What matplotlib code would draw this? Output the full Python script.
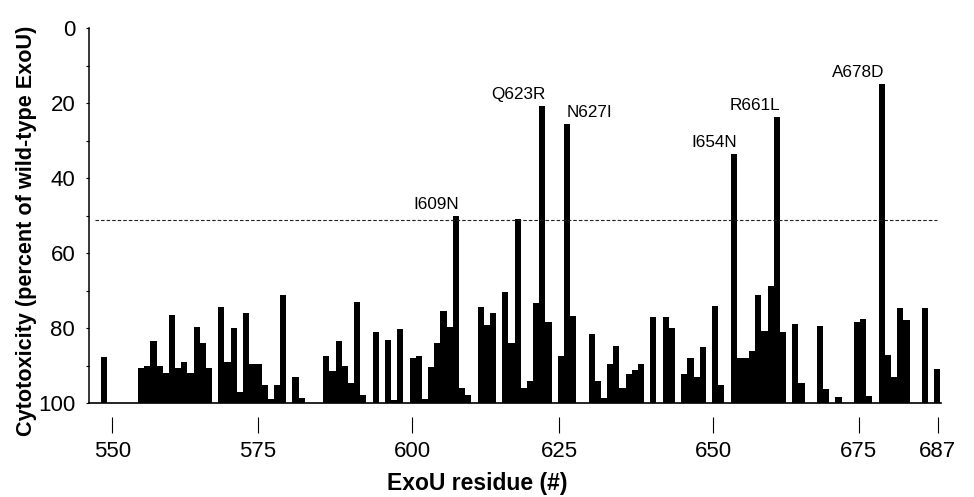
import numpy as np
import matplotlib
matplotlib.use("Agg")
import matplotlib.pyplot as plt

plt.rcParams['font.family'] = ['Liberation Sans', 'DejaVu Sans']

# Cytotoxicity (% of wild-type ExoU) per residue, 100 = no reduction (no bar)
first_residue = 552
cytotoxicity = [
    87.6, 100, 100, 100, 100, 100, 90.6, 90.1, 83.3, 90.1,   # 552-561
    92.0, 76.4, 90.7, 89.0, 91.8, 79.7, 83.9, 90.6, 100, 74.2,  # 562-571
    89.1, 79.8, 96.9, 75.8, 89.4, 89.4, 95.2, 98.9, 95.0, 71.0,  # 572-581
    100, 93.0, 98.7, 100, 100, 100, 87.3, 91.3, 83.3, 90.0,     # 582-591
    94.7, 73.1, 97.9, 100, 80.9, 100, 83.2, 99.2, 80.3, 100,    # 592-601
    88.0, 87.3, 98.9, 90.2, 83.8, 75.3, 79.6, 50.1, 95.8, 97.9,  # 602-611
    100, 74.3, 79.1, 75.8, 100, 70.4, 83.8, 50.8, 96.0, 94.0,   # 612-621
    73.3, 20.7, 78.2, 100, 87.3, 25.5, 76.6, 100, 100, 81.6,    # 622-631
    94.0, 98.5, 89.6, 84.8, 95.8, 92.2, 91.2, 89.5, 100, 76.9,  # 632-641
    100, 77.1, 79.8, 100, 92.2, 87.8, 93.1, 85.1, 100, 74.0,    # 642-651
    95.1, 100, 33.5, 87.8, 87.9, 86.0, 71.0, 80.7, 68.6, 23.6,  # 652-661
    80.9, 100, 78.9, 94.5, 100, 100, 79.3, 96.3, 100, 98.3,     # 662-671
    100, 100, 78.3, 77.5, 98.0, 100, 14.9, 87.2, 93.1, 74.7,    # 672-681
    77.7, 100, 100, 74.7, 100, 90.9,                            # 682-687
]
residues = np.arange(first_residue, first_residue + len(cytotoxicity))
cytotoxicity = np.array(cytotoxicity)

threshold = 51

mutant_residues = [609, 623, 627, 654, 661, 678]
mutant_names = ['I609N', 'Q623R', 'N627I', 'I654N', 'R661L', 'A678D']

tick_labels = ['550', '575', '600', '625', '650', '675', '687']
# where the labels sit along the axis in the original figure
tick_pos = [553.3, 576.9, 601.9, 625.7, 650.7, 674.3, 687.1]

fig = plt.figure(figsize=(9.74, 4.97), dpi=100)
ax = fig.add_axes([0.0917, 0.1885, 0.8744, 0.7545])

ax.bar(residues, cytotoxicity - 100, bottom=100, width=1.0, color='black',
       linewidth=0, align='center')

ax.hlines(threshold, 550.5, 687, colors='#222222', linewidth=0.8,
          linestyles=(0, (3.2, 1.8)))

for r, name in zip(mutant_residues, mutant_names):
    v = cytotoxicity[r - first_residue]
    if name == 'N627I':
        xy, ha = (r, v), 'left'
    else:
        xy, ha = (r + 0.5, v), 'right'
    ax.annotate(name, xy, xytext=(0, 5), textcoords='offset points',
                ha=ha, va='baseline', fontsize=12.3)

ax.set_xlim(549.6, 687.6)
ax.set_ylim(100, 0)

ax.set_yticks([0, 20, 40, 60, 80, 100])
ax.set_yticks([10, 30, 50, 70, 90], minor=True)
ax.tick_params(axis='y', which='both', direction='out', length=2.2,
               width=0.8, labelsize=16, pad=8)

ax.set_xticks(tick_pos)
ax.set_xticklabels(tick_labels)
ax.tick_params(axis='x', direction='out', length=11.5, width=0.8,
               labelsize=16, pad=5.5)

for s in ['top', 'right']:
    ax.spines[s].set_visible(False)
ax.spines['left'].set_linewidth(1.1)
ax.spines['bottom'].set_position(('outward', 10))
ax.spines['bottom'].set_visible(False)
ax.axhline(100, color='black', linewidth=1.2, clip_on=False)

ax.set_xlabel('ExoU residue (#)', fontsize=16.5, fontweight='bold')
ax.xaxis.set_label_coords(0.456, -0.183)
ax.set_ylabel('Cytotoxicity (percent of wild-type ExoU)', fontsize=15.6,
              fontweight='bold')
ax.yaxis.set_label_coords(-0.062, 0.46)

fig.savefig('out.png', dpi=100)
